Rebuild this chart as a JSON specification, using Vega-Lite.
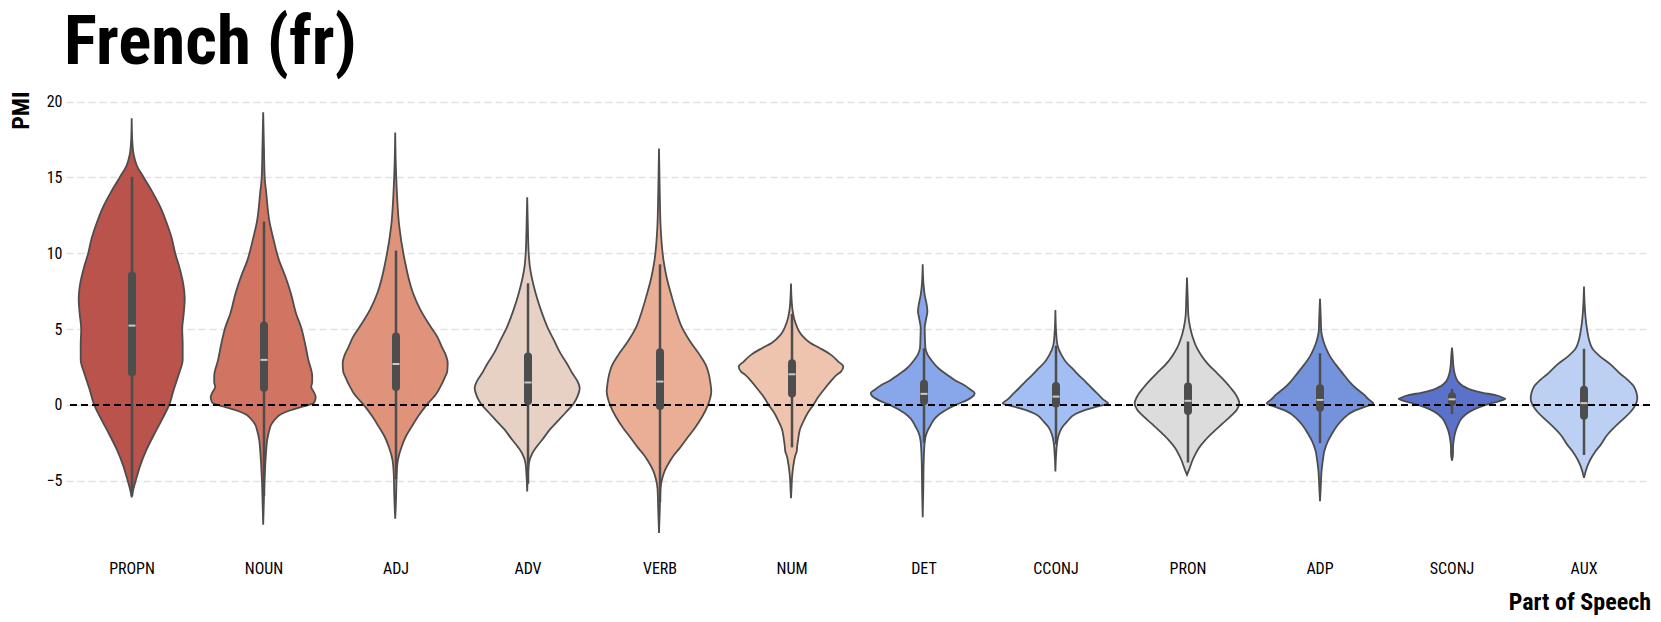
{
"$schema": "https://vega.github.io/schema/vega-lite/v6.json",
"background": "white",
"padding": {"left": 9, "top": 9, "right": 0, "bottom": 0},
"bounds": "flush",
"title": {"text": "French (fr)", "anchor": "start", "frame": "group", "fontSize": 69, "fontWeight": "bold", "font": "Roboto Condensed, Liberation Sans Narrow, Arial Narrow, DejaVu Sans Condensed, Roboto, sans-serif", "color": "black", "offset": 13, "dx": -2},
"data": {"values": [
{"pos":"PROPN","pmi":18.9,"density":0},{"pos":"PROPN","pmi":17.5,"density":1},{"pos":"PROPN","pmi":16.5,"density":4},{"pos":"PROPN","pmi":15.8,"density":10},{"pos":"PROPN","pmi":15,"density":24},{"pos":"PROPN","pmi":14,"density":42},{"pos":"PROPN","pmi":13,"density":58},{"pos":"PROPN","pmi":12,"density":70},{"pos":"PROPN","pmi":11,"density":80},{"pos":"PROPN","pmi":10,"density":87},{"pos":"PROPN","pmi":9,"density":96},{"pos":"PROPN","pmi":8,"density":103},{"pos":"PROPN","pmi":7,"density":106},{"pos":"PROPN","pmi":6,"density":104},{"pos":"PROPN","pmi":5,"density":101},{"pos":"PROPN","pmi":4,"density":102},{"pos":"PROPN","pmi":3,"density":102},{"pos":"PROPN","pmi":2,"density":94},{"pos":"PROPN","pmi":1,"density":84},{"pos":"PROPN","pmi":0,"density":75},{"pos":"PROPN","pmi":-1,"density":60},{"pos":"PROPN","pmi":-2,"density":44},{"pos":"PROPN","pmi":-3,"density":29},{"pos":"PROPN","pmi":-4,"density":17},{"pos":"PROPN","pmi":-5,"density":8},{"pos":"PROPN","pmi":-5.6,"density":3},{"pos":"PROPN","pmi":-6.1,"density":0},
{"pos":"NOUN","pmi":19.3,"density":0},{"pos":"NOUN","pmi":17,"density":1.5},{"pos":"NOUN","pmi":15,"density":3},{"pos":"NOUN","pmi":14,"density":6},{"pos":"NOUN","pmi":12,"density":13},{"pos":"NOUN","pmi":11,"density":20},{"pos":"NOUN","pmi":9.5,"density":32},{"pos":"NOUN","pmi":8.5,"density":44},{"pos":"NOUN","pmi":7.4,"density":55},{"pos":"NOUN","pmi":6,"density":66},{"pos":"NOUN","pmi":5.2,"density":75},{"pos":"NOUN","pmi":4,"density":84},{"pos":"NOUN","pmi":3,"density":90},{"pos":"NOUN","pmi":1.9,"density":98},{"pos":"NOUN","pmi":1.5,"density":98},{"pos":"NOUN","pmi":1.2,"density":96},{"pos":"NOUN","pmi":0.8,"density":102},{"pos":"NOUN","pmi":0.5,"density":105},{"pos":"NOUN","pmi":0.15,"density":102},{"pos":"NOUN","pmi":-0.1,"density":80},{"pos":"NOUN","pmi":-0.35,"density":55},{"pos":"NOUN","pmi":-0.6,"density":36},{"pos":"NOUN","pmi":-0.9,"density":25},{"pos":"NOUN","pmi":-1.3,"density":16},{"pos":"NOUN","pmi":-1.7,"density":12},{"pos":"NOUN","pmi":-2.3,"density":8},{"pos":"NOUN","pmi":-3,"density":6},{"pos":"NOUN","pmi":-4,"density":4},{"pos":"NOUN","pmi":-5,"density":2.5},{"pos":"NOUN","pmi":-6.5,"density":1.2},{"pos":"NOUN","pmi":-7.9,"density":0},
{"pos":"ADJ","pmi":17.96,"density":0},{"pos":"ADJ","pmi":15.5,"density":1.5},{"pos":"ADJ","pmi":14,"density":3.4},{"pos":"ADJ","pmi":11.8,"density":8},{"pos":"ADJ","pmi":9.6,"density":18.6},{"pos":"ADJ","pmi":7.4,"density":35.4},{"pos":"ADJ","pmi":6.3,"density":50},{"pos":"ADJ","pmi":5.2,"density":70},{"pos":"ADJ","pmi":4.5,"density":84},{"pos":"ADJ","pmi":3.85,"density":93},{"pos":"ADJ","pmi":3.3,"density":101},{"pos":"ADJ","pmi":2.75,"density":105},{"pos":"ADJ","pmi":2.2,"density":104},{"pos":"ADJ","pmi":1.87,"density":100},{"pos":"ADJ","pmi":1.3,"density":92},{"pos":"ADJ","pmi":0.77,"density":83},{"pos":"ADJ","pmi":0,"density":63},{"pos":"ADJ","pmi":-0.7,"density":47},{"pos":"ADJ","pmi":-1.43,"density":33},{"pos":"ADJ","pmi":-2.1,"density":21},{"pos":"ADJ","pmi":-2.74,"density":13},{"pos":"ADJ","pmi":-3.63,"density":5.4},{"pos":"ADJ","pmi":-4.5,"density":3},{"pos":"ADJ","pmi":-5.8,"density":2},{"pos":"ADJ","pmi":-6.8,"density":1},{"pos":"ADJ","pmi":-7.5,"density":0},
{"pos":"ADV","pmi":13.7,"density":0},{"pos":"ADV","pmi":11.5,"density":1.5},{"pos":"ADV","pmi":10,"density":3},{"pos":"ADV","pmi":9.1,"density":5.4},{"pos":"ADV","pmi":7.4,"density":16.6},{"pos":"ADV","pmi":6.2,"density":28},{"pos":"ADV","pmi":5.17,"density":40},{"pos":"ADV","pmi":4.3,"density":53},{"pos":"ADV","pmi":3.4,"density":66.6},{"pos":"ADV","pmi":2.7,"density":80},{"pos":"ADV","pmi":2.1,"density":90},{"pos":"ADV","pmi":1.6,"density":100},{"pos":"ADV","pmi":1.1,"density":105},{"pos":"ADV","pmi":0.6,"density":101},{"pos":"ADV","pmi":0.1,"density":93},{"pos":"ADV","pmi":-0.5,"density":77},{"pos":"ADV","pmi":-1,"density":63},{"pos":"ADV","pmi":-1.6,"density":46},{"pos":"ADV","pmi":-2.3,"density":30},{"pos":"ADV","pmi":-2.8,"density":18},{"pos":"ADV","pmi":-3.2,"density":10},{"pos":"ADV","pmi":-3.85,"density":3.4},{"pos":"ADV","pmi":-4.6,"density":1.5},{"pos":"ADV","pmi":-5.7,"density":0},
{"pos":"VERB","pmi":16.9,"density":0},{"pos":"VERB","pmi":14,"density":1.5},{"pos":"VERB","pmi":11.65,"density":3.4},{"pos":"VERB","pmi":9.45,"density":9.4},{"pos":"VERB","pmi":8.3,"density":16},{"pos":"VERB","pmi":7.25,"density":24.6},{"pos":"VERB","pmi":6.1,"density":35},{"pos":"VERB","pmi":5.06,"density":46.6},{"pos":"VERB","pmi":4.2,"density":62},{"pos":"VERB","pmi":3.3,"density":81.4},{"pos":"VERB","pmi":2.6,"density":94},{"pos":"VERB","pmi":1.98,"density":100},{"pos":"VERB","pmi":1.4,"density":103},{"pos":"VERB","pmi":0.88,"density":104.6},{"pos":"VERB","pmi":0.4,"density":102},{"pos":"VERB","pmi":0,"density":98},{"pos":"VERB","pmi":-0.8,"density":86},{"pos":"VERB","pmi":-1.54,"density":71.4},{"pos":"VERB","pmi":-2.2,"density":56},{"pos":"VERB","pmi":-2.85,"density":41.4},{"pos":"VERB","pmi":-3.3,"density":30},{"pos":"VERB","pmi":-3.73,"density":21.4},{"pos":"VERB","pmi":-4.3,"density":12},{"pos":"VERB","pmi":-4.83,"density":6.6},{"pos":"VERB","pmi":-5.5,"density":3},{"pos":"VERB","pmi":-7,"density":1.5},{"pos":"VERB","pmi":-8.45,"density":0},
{"pos":"NUM","pmi":8,"density":0},{"pos":"NUM","pmi":6.8,"density":1.5},{"pos":"NUM","pmi":6.37,"density":2.6},{"pos":"NUM","pmi":5.5,"density":8},{"pos":"NUM","pmi":4.6,"density":21.4},{"pos":"NUM","pmi":4.1,"density":38},{"pos":"NUM","pmi":3.74,"density":58},{"pos":"NUM","pmi":3.3,"density":80},{"pos":"NUM","pmi":2.86,"density":94.6},{"pos":"NUM","pmi":2.53,"density":104.6},{"pos":"NUM","pmi":2.2,"density":100},{"pos":"NUM","pmi":1.98,"density":91.4},{"pos":"NUM","pmi":1.5,"density":78},{"pos":"NUM","pmi":1.1,"density":68},{"pos":"NUM","pmi":0.5,"density":54},{"pos":"NUM","pmi":0,"density":44.6},{"pos":"NUM","pmi":-0.5,"density":34},{"pos":"NUM","pmi":-1.1,"density":24.6},{"pos":"NUM","pmi":-1.6,"density":18},{"pos":"NUM","pmi":-2.2,"density":14.6},{"pos":"NUM","pmi":-2.7,"density":12.5},{"pos":"NUM","pmi":-3.07,"density":11.4},{"pos":"NUM","pmi":-3.4,"density":8},{"pos":"NUM","pmi":-3.73,"density":6},{"pos":"NUM","pmi":-4.3,"density":3.5},{"pos":"NUM","pmi":-4.83,"density":2},{"pos":"NUM","pmi":-5.5,"density":1},{"pos":"NUM","pmi":-6.15,"density":0},
{"pos":"DET","pmi":9.27,"density":0},{"pos":"DET","pmi":8,"density":1.5},{"pos":"DET","pmi":7.25,"density":4},{"pos":"DET","pmi":6.6,"density":8},{"pos":"DET","pmi":6.16,"density":9.4},{"pos":"DET","pmi":5.7,"density":7},{"pos":"DET","pmi":5.06,"density":4},{"pos":"DET","pmi":4.3,"density":4.6},{"pos":"DET","pmi":3.74,"density":5.4},{"pos":"DET","pmi":3.3,"density":10},{"pos":"DET","pmi":2.86,"density":19.4},{"pos":"DET","pmi":2.4,"density":32},{"pos":"DET","pmi":1.98,"density":49.4},{"pos":"DET","pmi":1.6,"density":66},{"pos":"DET","pmi":1.32,"density":82.6},{"pos":"DET","pmi":1,"density":96},{"pos":"DET","pmi":0.77,"density":104},{"pos":"DET","pmi":0.5,"density":98},{"pos":"DET","pmi":0.33,"density":89.4},{"pos":"DET","pmi":0,"density":66},{"pos":"DET","pmi":-0.3,"density":48},{"pos":"DET","pmi":-0.55,"density":36},{"pos":"DET","pmi":-0.9,"density":24},{"pos":"DET","pmi":-1.32,"density":16},{"pos":"DET","pmi":-1.8,"density":8.5},{"pos":"DET","pmi":-2.42,"density":4},{"pos":"DET","pmi":-3.73,"density":2},{"pos":"DET","pmi":-5.5,"density":1.2},{"pos":"DET","pmi":-7.4,"density":0},
{"pos":"CCONJ","pmi":6.26,"density":0},{"pos":"CCONJ","pmi":4.8,"density":1.5},{"pos":"CCONJ","pmi":3.96,"density":4},{"pos":"CCONJ","pmi":3.3,"density":12},{"pos":"CCONJ","pmi":2.8,"density":22},{"pos":"CCONJ","pmi":2.42,"density":33.4},{"pos":"CCONJ","pmi":1.98,"density":46},{"pos":"CCONJ","pmi":1.54,"density":60},{"pos":"CCONJ","pmi":1.1,"density":73},{"pos":"CCONJ","pmi":0.66,"density":86.6},{"pos":"CCONJ","pmi":0.35,"density":96},{"pos":"CCONJ","pmi":0.11,"density":105.4},{"pos":"CCONJ","pmi":-0.1,"density":85},{"pos":"CCONJ","pmi":-0.33,"density":60},{"pos":"CCONJ","pmi":-0.6,"density":40},{"pos":"CCONJ","pmi":-1.1,"density":23.4},{"pos":"CCONJ","pmi":-1.5,"density":13},{"pos":"CCONJ","pmi":-1.98,"density":6.6},{"pos":"CCONJ","pmi":-2.6,"density":3},{"pos":"CCONJ","pmi":-3.3,"density":1.4},{"pos":"CCONJ","pmi":-4.39,"density":0},
{"pos":"PRON","pmi":8.4,"density":0},{"pos":"PRON","pmi":7,"density":1.5},{"pos":"PRON","pmi":5.93,"density":2.6},{"pos":"PRON","pmi":5.06,"density":6.6},{"pos":"PRON","pmi":4.4,"density":12},{"pos":"PRON","pmi":3.74,"density":20},{"pos":"PRON","pmi":3.2,"density":30},{"pos":"PRON","pmi":2.64,"density":43.4},{"pos":"PRON","pmi":2.1,"density":60},{"pos":"PRON","pmi":1.54,"density":76.6},{"pos":"PRON","pmi":1.1,"density":88},{"pos":"PRON","pmi":0.66,"density":98},{"pos":"PRON","pmi":0.11,"density":104.6},{"pos":"PRON","pmi":-0.3,"density":100},{"pos":"PRON","pmi":-0.66,"density":90},{"pos":"PRON","pmi":-1.2,"density":72},{"pos":"PRON","pmi":-1.76,"density":53.4},{"pos":"PRON","pmi":-2.3,"density":37},{"pos":"PRON","pmi":-2.85,"density":23.4},{"pos":"PRON","pmi":-3.3,"density":16},{"pos":"PRON","pmi":-3.73,"density":10},{"pos":"PRON","pmi":-4.2,"density":5},{"pos":"PRON","pmi":-4.61,"density":0},
{"pos":"ADP","pmi":7,"density":0},{"pos":"ADP","pmi":5.8,"density":1.5},{"pos":"ADP","pmi":4.84,"density":2.6},{"pos":"ADP","pmi":4.3,"density":6},{"pos":"ADP","pmi":3.74,"density":12},{"pos":"ADP","pmi":3.2,"density":20},{"pos":"ADP","pmi":2.64,"density":32},{"pos":"ADP","pmi":2.1,"density":45},{"pos":"ADP","pmi":1.54,"density":58.6},{"pos":"ADP","pmi":1.1,"density":72},{"pos":"ADP","pmi":0.66,"density":88.6},{"pos":"ADP","pmi":0.35,"density":98},{"pos":"ADP","pmi":0.11,"density":106.6},{"pos":"ADP","pmi":-0.15,"density":88},{"pos":"ADP","pmi":-0.44,"density":65.4},{"pos":"ADP","pmi":-0.9,"density":47},{"pos":"ADP","pmi":-1.32,"density":35.4},{"pos":"ADP","pmi":-1.9,"density":24},{"pos":"ADP","pmi":-2.42,"density":15.4},{"pos":"ADP","pmi":-3,"density":9},{"pos":"ADP","pmi":-3.73,"density":5.4},{"pos":"ADP","pmi":-4.4,"density":3},{"pos":"ADP","pmi":-5.05,"density":2},{"pos":"ADP","pmi":-5.7,"density":1},{"pos":"ADP","pmi":-6.35,"density":0},
{"pos":"SCONJ","pmi":3.78,"density":0},{"pos":"SCONJ","pmi":3.2,"density":1.5},{"pos":"SCONJ","pmi":2.64,"density":2.6},{"pos":"SCONJ","pmi":2.1,"density":5},{"pos":"SCONJ","pmi":1.54,"density":12},{"pos":"SCONJ","pmi":1.25,"density":22},{"pos":"SCONJ","pmi":0.99,"density":38.6},{"pos":"SCONJ","pmi":0.8,"density":62},{"pos":"SCONJ","pmi":0.66,"density":85.4},{"pos":"SCONJ","pmi":0.5,"density":100},{"pos":"SCONJ","pmi":0.4,"density":106.6},{"pos":"SCONJ","pmi":0.25,"density":95},{"pos":"SCONJ","pmi":0.11,"density":78.6},{"pos":"SCONJ","pmi":-0.15,"density":55},{"pos":"SCONJ","pmi":-0.44,"density":35.4},{"pos":"SCONJ","pmi":-0.85,"density":20},{"pos":"SCONJ","pmi":-1.32,"density":12},{"pos":"SCONJ","pmi":-1.75,"density":7},{"pos":"SCONJ","pmi":-2.2,"density":4},{"pos":"SCONJ","pmi":-2.85,"density":2},{"pos":"SCONJ","pmi":-3.2,"density":2},{"pos":"SCONJ","pmi":-3.67,"density":0},
{"pos":"AUX","pmi":7.8,"density":0},{"pos":"AUX","pmi":6.5,"density":1.5},{"pos":"AUX","pmi":5.8,"density":3},{"pos":"AUX","pmi":5,"density":6},{"pos":"AUX","pmi":4.3,"density":10},{"pos":"AUX","pmi":3.7,"density":17},{"pos":"AUX","pmi":3.2,"density":32},{"pos":"AUX","pmi":2.67,"density":53},{"pos":"AUX","pmi":2.1,"density":71},{"pos":"AUX","pmi":1.6,"density":89},{"pos":"AUX","pmi":1.2,"density":100},{"pos":"AUX","pmi":0.8,"density":105},{"pos":"AUX","pmi":0.4,"density":106.6},{"pos":"AUX","pmi":0,"density":103},{"pos":"AUX","pmi":-0.5,"density":92},{"pos":"AUX","pmi":-1,"density":76},{"pos":"AUX","pmi":-1.5,"density":60},{"pos":"AUX","pmi":-2,"density":46},{"pos":"AUX","pmi":-2.6,"density":34},{"pos":"AUX","pmi":-3.1,"density":22},{"pos":"AUX","pmi":-3.6,"density":12.8},{"pos":"AUX","pmi":-4.1,"density":6},{"pos":"AUX","pmi":-4.8,"density":0},
{"pos":"PROPN","q1":2.13,"q3":8.54,"med":5.23,"lo":-6.0,"hi":15.05},
{"pos":"NOUN","q1":1.14,"q3":5.24,"med":2.97,"lo":-6.0,"hi":12.09},
{"pos":"ADJ","q1":1.18,"q3":4.51,"med":2.7,"lo":-4.9,"hi":10.18},
{"pos":"ADV","q1":0.26,"q3":3.19,"med":1.48,"lo":-5.2,"hi":8.02},
{"pos":"VERB","q1":-0.07,"q3":3.48,"med":1.54,"lo":-6.4,"hi":9.27},
{"pos":"NUM","q1":0.75,"q3":2.75,"med":2.02,"lo":-2.8,"hi":6.0},
{"pos":"DET","q1":0.26,"q3":1.39,"med":0.73,"lo":-2.5,"hi":3.74},
{"pos":"CCONJ","q1":0.09,"q3":1.24,"med":0.55,"lo":-2.6,"hi":3.9},
{"pos":"PRON","q1":-0.4,"q3":1.21,"med":0.27,"lo":-3.8,"hi":4.18},
{"pos":"ADP","q1":-0.18,"q3":1.1,"med":0.33,"lo":-2.52,"hi":3.41},
{"pos":"SCONJ","q1":0.22,"q3":0.58,"med":0.37,"lo":-0.6,"hi":1.05},
{"pos":"AUX","q1":-0.72,"q3":1.0,"med":0.12,"lo":-3.3,"hi":3.7}
]},
"spacing": 0,
"facet": {"column": {"field": "pos", "type": "nominal", "title": "Part of Speech",
  "sort": ["PROPN","NOUN","ADJ","ADV","VERB","NUM","DET","CCONJ","PRON","ADP","SCONJ","AUX"],
  "header": {"labelOrient": "bottom", "titleOrient": "bottom", "titleAnchor": "end",
    "labelFont": "Roboto Condensed, Liberation Sans Narrow, Arial Narrow, DejaVu Sans Condensed, Roboto, sans-serif", "labelFontSize": 16, "labelColor": "black", "labelPadding": 6,
    "titleFont": "Roboto Condensed, Liberation Sans Narrow, Arial Narrow, DejaVu Sans Condensed, Roboto, sans-serif", "titleFontSize": 24, "titleFontWeight": "bold", "titleColor": "black", "titlePadding": 4}}},
"spec": {
  "width": 132,
  "height": 463.3,
  "layer": [
    {"transform": [{"filter": {"field": "density", "valid": true}}],
     "mark": {"type": "area", "orient": "horizontal", "interpolate": "monotone", "stroke": "#4d4d4d", "strokeWidth": 1.8, "fillOpacity": 1},
     "encoding": {
       "y": {"field": "pmi", "type": "quantitative", "title": "PMI", "scale": {"domain": [-9.85, 20.7], "nice": false, "zero": false},
         "axis": {"values": [-5, 0, 5, 10, 15, 20], "grid": true, "gridDash": [7, 4], "gridColor": "#e2e2e2", "gridWidth": 1.5, "domain": false, "ticks": false,
           "labelFontSize": 16, "labelColor": "black", "labelPadding": 4,
           "titleFontSize": 24, "titleFontWeight": "bold", "titleColor": "black", "titleAnchor": "end", "titlePadding": 13}},
       "x": {"field": "density", "type": "quantitative", "stack": "center", "impute": null, "axis": null, "scale": {"nice": false, "padding": 12.7}},
       "color": {"field": "pos", "type": "nominal", "legend": null, "scale": {
         "domain": ["PROPN","NOUN","ADJ","ADV","VERB","NUM","DET","CCONJ","PRON","ADP","SCONJ","AUX"],
         "range": ["#b9534c","#d17461","#e0937b","#e7d1c5","#eaae95","#efc4ae","#88a7ea","#a2bef2","#dcdcdc","#7592dd","#5a72c9","#bcd0f3"]}}
     }},
    {"transform": [{"filter": {"field": "q1", "valid": true}}],
     "mark": {"type": "rule", "color": "black", "strokeWidth": 2, "strokeDash": [7, 4]},
     "encoding": {"y": {"datum": 0, "type": "quantitative", "title": "PMI"}}},
    {"transform": [{"filter": {"field": "q1", "valid": true}}],
     "mark": {"type": "rule", "color": "#4d4d4d", "strokeWidth": 2.5},
     "encoding": {"y": {"field": "lo", "type": "quantitative", "title": "PMI"}, "y2": {"field": "hi"}}},
    {"transform": [{"filter": {"field": "q1", "valid": true}}],
     "mark": {"type": "rule", "color": "#4d4d4d", "strokeWidth": 8, "strokeCap": "round"},
     "encoding": {"y": {"field": "q1", "type": "quantitative", "title": "PMI"}, "y2": {"field": "q3"}}},
    {"transform": [{"filter": {"field": "q1", "valid": true}}],
     "mark": {"type": "tick", "color": "white", "size": 7, "thickness": 2, "orient": "horizontal"},
     "encoding": {"y": {"field": "med", "type": "quantitative", "title": "PMI"}}}
  ]
},
"config": {
  "view": {"stroke": null},
  "font": "Roboto Condensed, Liberation Sans Narrow, Arial Narrow, DejaVu Sans Condensed, Roboto, sans-serif"
}
}
